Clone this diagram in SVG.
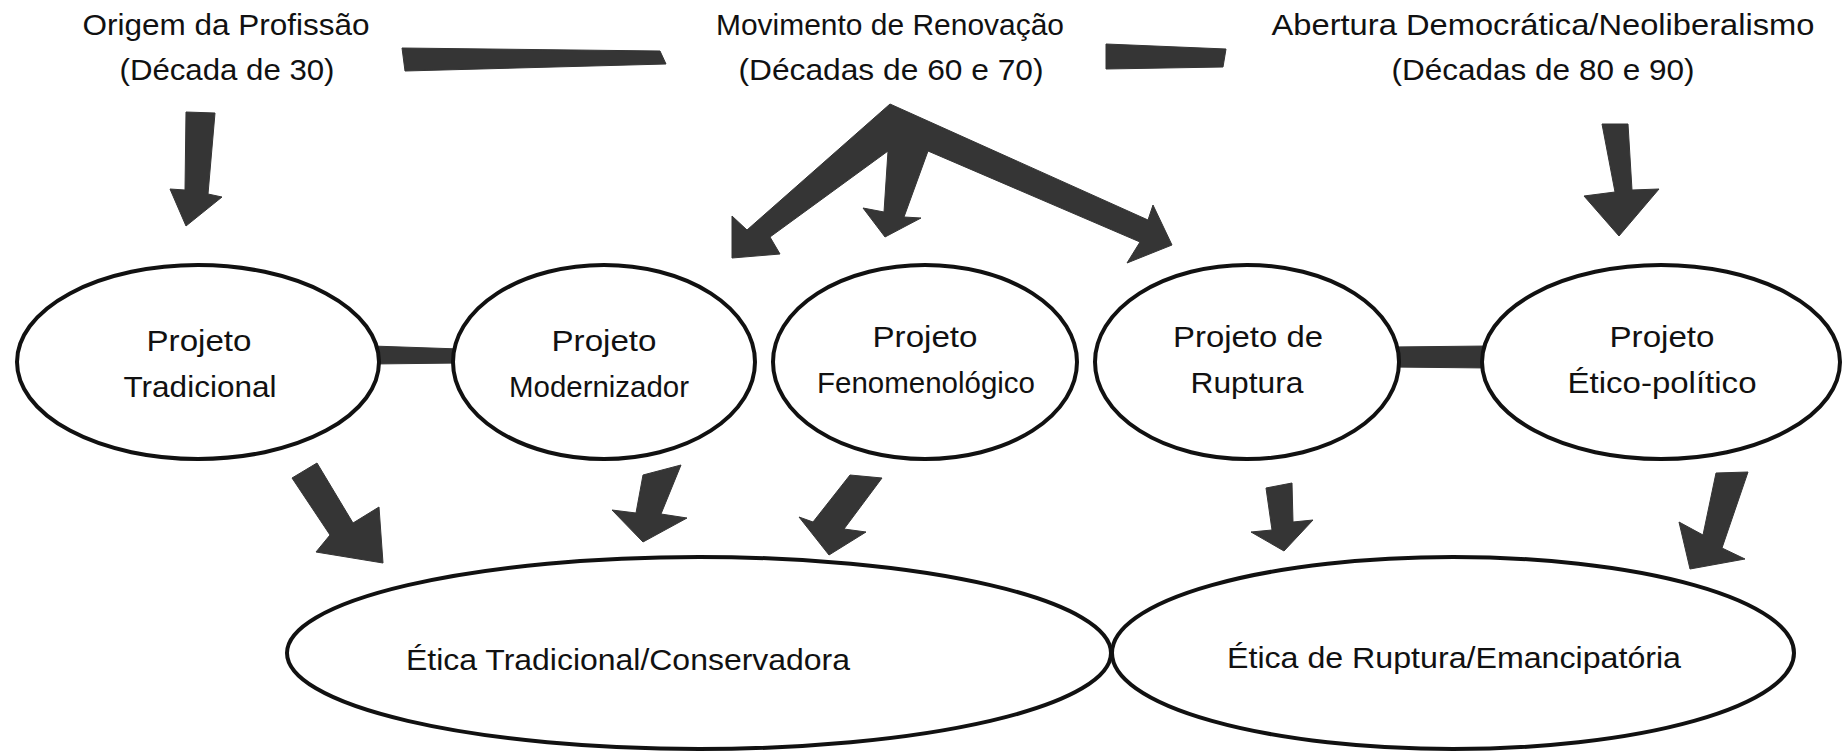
<svg xmlns="http://www.w3.org/2000/svg" width="1843" height="752" viewBox="0 0 1843 752">
  <style>
    .bg { fill: #ffffff; }
    .node ellipse { fill: #ffffff; stroke: #111111; stroke-width: 4; }
    .lbl { font-family: "Liberation Sans", "DejaVu Sans", sans-serif; font-size: 30px; fill: #111111; text-anchor: middle; }
    .arrow { fill: #353535; stroke: #353535; stroke-width: 1; stroke-linejoin: miter; }
  </style>

  <rect class="bg" x="0" y="0" width="1843" height="752"/>

  <!-- connectors: thick bars and block arrows -->
  <g id="connectors">
    <!-- bars joining the period headings -->
    <polygon class="arrow" points="402,48 660,51 666,64 405,71"/>
    <polygon class="arrow" points="1106,44 1226,49 1223,67 1106,69"/>
    <!-- bars joining neighbouring projects -->
    <polygon class="arrow" points="372,346 460,349 460,363 372,364"/>
    <polygon class="arrow" points="1392,347 1488,346 1488,368 1392,367"/>

    <!-- heading arrows down to the projects -->
    <polygon class="arrow" points="186,112 215,113 208,194 222,197 186,226 170,189 185,190"/>
    <polygon class="arrow" points="1602,124 1628,124 1632,190 1659,189 1619,236 1584,196 1615,192"/>

    <!-- three-way arrow from the renewal movement -->
    <polygon class="arrow" points="890,104 1148,220 1153,205 1172,245 1127,263 1140,242 928,151 904,217 921,218 885,237 863,208 884,212 888,151 770,237 780,254 732,258 732,216 747,230"/>

    <!-- project arrows down to the two ethics -->
    <polygon class="arrow" points="292,478 317,463 353,523 379,507 383,563 316,552 330,535"/>
    <polygon class="arrow" points="643,475 681,465 661,514 687,518 643,542 612,510 636,513"/>
    <polygon class="arrow" points="850,475 882,478 844,529 866,532 829,555 799,517 813,522"/>
    <polygon class="arrow" points="1266,488 1292,483 1293,522 1313,520 1284,551 1251,532 1272,530"/>
    <polygon class="arrow" points="1716,473 1748,472 1722,548 1745,559 1690,569 1679,522 1703,535"/>
  </g>

  <!-- period headings -->
  <g id="origem">
    <text class="lbl" x="226" y="35" textLength="287" lengthAdjust="spacingAndGlyphs">Origem da Profissão</text>
    <text class="lbl" x="227" y="80" textLength="215" lengthAdjust="spacingAndGlyphs">(Década de 30)</text>
  </g>
  <g id="renovacao">
    <text class="lbl" x="890" y="35" textLength="348" lengthAdjust="spacingAndGlyphs">Movimento de Renovação</text>
    <text class="lbl" x="891" y="80" textLength="305" lengthAdjust="spacingAndGlyphs">(Décadas de 60 e 70)</text>
  </g>
  <g id="abertura">
    <text class="lbl" x="1543" y="35" textLength="543" lengthAdjust="spacingAndGlyphs">Abertura Democrática/Neoliberalismo</text>
    <text class="lbl" x="1543" y="80" textLength="303" lengthAdjust="spacingAndGlyphs">(Décadas de 80 e 90)</text>
  </g>

  <!-- professional projects -->
  <g id="projeto-tradicional" class="node">
    <ellipse cx="198" cy="362" rx="181" ry="97"/>
    <text class="lbl" x="199" y="351" textLength="105" lengthAdjust="spacingAndGlyphs">Projeto</text>
    <text class="lbl" x="200" y="397" textLength="153" lengthAdjust="spacingAndGlyphs">Tradicional</text>
  </g>
  <g id="projeto-modernizador" class="node">
    <ellipse cx="604" cy="362" rx="151" ry="97"/>
    <text class="lbl" x="604" y="351" textLength="105" lengthAdjust="spacingAndGlyphs">Projeto</text>
    <text class="lbl" x="599" y="397" textLength="180" lengthAdjust="spacingAndGlyphs">Modernizador</text>
  </g>
  <g id="projeto-fenomenologico" class="node">
    <ellipse cx="925" cy="362" rx="152" ry="97"/>
    <text class="lbl" x="925" y="347" textLength="105" lengthAdjust="spacingAndGlyphs">Projeto</text>
    <text class="lbl" x="926" y="393" textLength="218" lengthAdjust="spacingAndGlyphs">Fenomenológico</text>
  </g>
  <g id="projeto-ruptura" class="node">
    <ellipse cx="1247" cy="362" rx="152" ry="97"/>
    <text class="lbl" x="1248" y="347" textLength="150" lengthAdjust="spacingAndGlyphs">Projeto de</text>
    <text class="lbl" x="1247" y="393" textLength="113" lengthAdjust="spacingAndGlyphs">Ruptura</text>
  </g>
  <g id="projeto-etico-politico" class="node">
    <ellipse cx="1661" cy="362" rx="179" ry="97"/>
    <text class="lbl" x="1662" y="347" textLength="105" lengthAdjust="spacingAndGlyphs">Projeto</text>
    <text class="lbl" x="1662" y="393" textLength="189" lengthAdjust="spacingAndGlyphs">Ético-político</text>
  </g>

  <!-- ethics -->
  <g id="etica-tradicional" class="node">
    <ellipse cx="699" cy="653" rx="412" ry="96"/>
    <text class="lbl" x="628" y="670" textLength="444" lengthAdjust="spacingAndGlyphs">Ética Tradicional/Conservadora</text>
  </g>
  <g id="etica-ruptura" class="node">
    <ellipse cx="1453" cy="653" rx="341" ry="96"/>
    <text class="lbl" x="1454" y="668" textLength="454" lengthAdjust="spacingAndGlyphs">Ética de Ruptura/Emancipatória</text>
  </g>
</svg>
